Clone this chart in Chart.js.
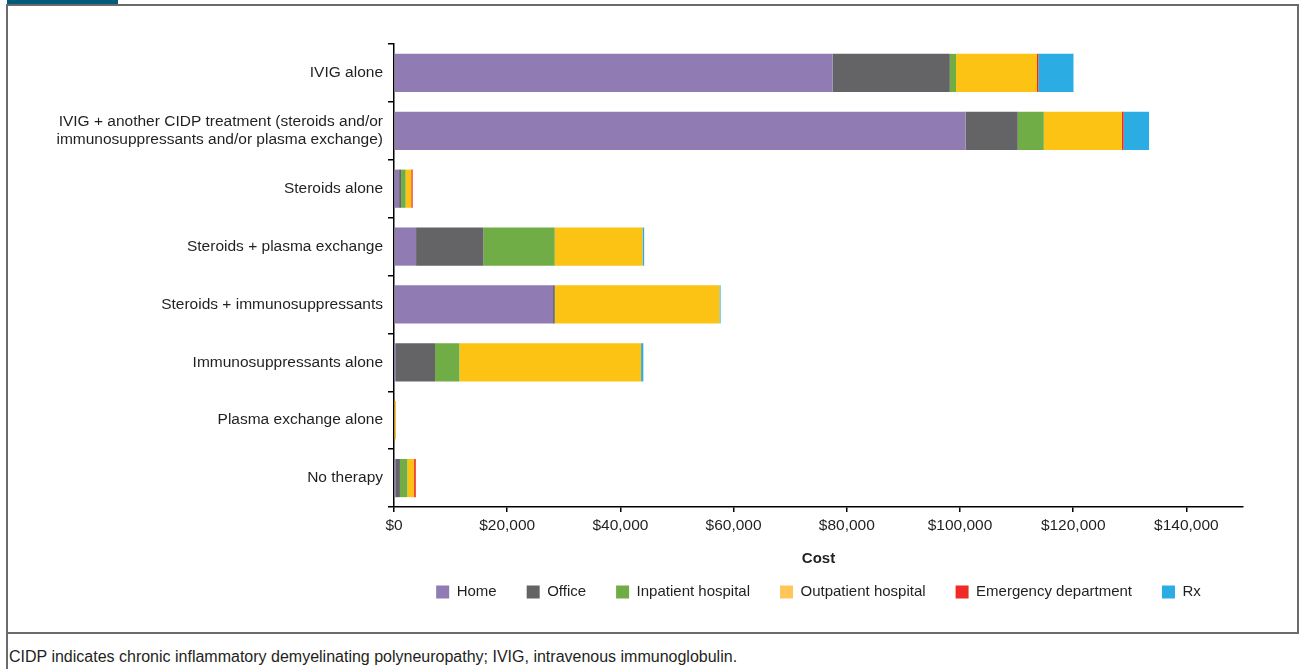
<!DOCTYPE html>
<html>
<head>
<meta charset="utf-8">
<script src="https://cdn.jsdelivr.net/npm/chart.js@4.4.1/dist/chart.umd.min.js"></script>
<style>
  html, body { margin: 0; padding: 0; background: #fff; width: 1304px; height: 669px; overflow: hidden; }
  #tab { position: absolute; left: 7px; top: 0; width: 111px; height: 4px; background: #005A7C; }
  #frame { position: absolute; left: 6px; top: 4px; width: 1289px; height: 626px; border: 2px solid #6b6b6b; box-sizing: content-box; }
  #footLeft { position: absolute; left: 6px; top: 632px; width: 2px; height: 37px; background: #6b6b6b; }
  #note { position: absolute; left: 9px; top: 648px; font-family: 'Liberation Sans', Arial, sans-serif; font-size: 16px; color: #231F20; white-space: nowrap; }
  #c { position: absolute; left: 0; top: 0; }
</style>
</head>
<body>
<div id="tab"></div>
<div id="frame"></div>
<div id="footLeft"></div>
<canvas id="c" width="1304" height="632"></canvas>
<div id="note">CIDP indicates chronic inflammatory demyelinating polyneuropathy; IVIG, intravenous immunoglobulin.</div>
<script>
const categories = [
  'IVIG alone',
  ['IVIG + another CIDP treatment (steroids and/or', 'immunosuppressants and/or plasma exchange)'],
  'Steroids alone',
  'Steroids + plasma exchange',
  'Steroids + immunosuppressants',
  'Immunosuppressants alone',
  'Plasma exchange alone',
  'No therapy'
];
const seriesNames = ['Home', 'Office', 'Inpatient hospital', 'Outpatient hospital', 'Emergency department', 'Rx'];
const home       = [77500, 101000, 900, 3900, 28100, 350, 0, 350];
const office     = [20700, 9200, 350, 11900, 300, 6900, 0, 700];
const inpatient  = [1100, 4600, 800, 12600, 0, 4300, 0, 1300];
const outpatient = [14300, 13800, 1000, 15500, 29100, 32100, 350, 1200];
const emergency  = [250, 300, 250, 0, 0, 0, 0, 300];
const rx         = [6200, 4500, 0, 300, 200, 400, 0, 0];
const xTickValues = [0, 20000, 40000, 60000, 80000, 100000, 120000, 140000];
const xMax = 150000;

const colors = ['#917BB3', '#646466', '#70AD47', '#FDC314', '#EE2B24', '#2BACE2'];
const legendColors = ['#917BB3', '#646466', '#70AD47', '#FFC65A', '#EE2B24', '#2BACE2'];
const FONT = "'Liberation Sans', Arial, sans-serif";
const seriesData = [home, office, inpatient, outpatient, emergency, rx];

const datasets = seriesNames.map((name, i) => ({
  label: name,
  data: seriesData[i],
  backgroundColor: colors[i],
  borderWidth: 0,
  barPercentage: 0.66,
  categoryPercentage: 1.0
}));

new Chart(document.getElementById('c'), {
  type: 'bar',
  data: { labels: categories, datasets },
  options: {
    indexAxis: 'y',
    responsive: false,
    animation: false,
    devicePixelRatio: 1,
    layout: { padding: { top: 44, right: 61, bottom: 22.5, left: 0 } },
    scales: {
      x: {
        stacked: true,
        min: 0,
        max: xMax,
        afterBuildTicks: (scale) => { scale.ticks = xTickValues.map(v => ({ value: v })); },
        afterFit: (scale) => { scale.height = 47.5; },
        ticks: {
          color: '#231F20',
          font: { family: FONT, size: 15.5 },
          padding: 4,
          maxRotation: 0,
          callback: (v) => '$' + Number(v).toLocaleString('en-US')
        },
        grid: { display: true, drawOnChartArea: false, drawTicks: true, tickLength: 5, color: '#000', lineWidth: 1.5 },
        border: { display: true, color: '#000', width: 1.5 },
        title: {
          display: true, text: 'Cost', color: '#231F20',
          font: { family: FONT, size: 15, weight: 'bold' },
          padding: { top: 0, bottom: -13.5 }
        }
      },
      y: {
        stacked: true,
        afterFit: (scale) => { scale.width = 394; },
        ticks: { color: '#231F20', font: { family: FONT, size: 15.5 }, padding: 5 },
        grid: { display: true, offset: true, drawOnChartArea: false, drawTicks: true, tickLength: 6, color: '#000', lineWidth: 1.5 },
        border: { display: true, color: '#000', width: 1.5 }
      }
    },
    plugins: {
      tooltip: { enabled: false },
      legend: {
        position: 'bottom',
        fullSize: false,
        labels: {
          color: '#231F20',
          font: { family: FONT, size: 15 },
          boxWidth: 13,
          boxHeight: 13,
          padding: 30,
          generateLabels: (chart) => chart.data.datasets.map((ds, i) => ({
            text: ds.label, fillStyle: legendColors[i], strokeStyle: legendColors[i],
            lineWidth: 0, hidden: false, datasetIndex: i, fontColor: '#231F20'
          }))
        }
      }
    }
  }
});
</script>
</body>
</html>
